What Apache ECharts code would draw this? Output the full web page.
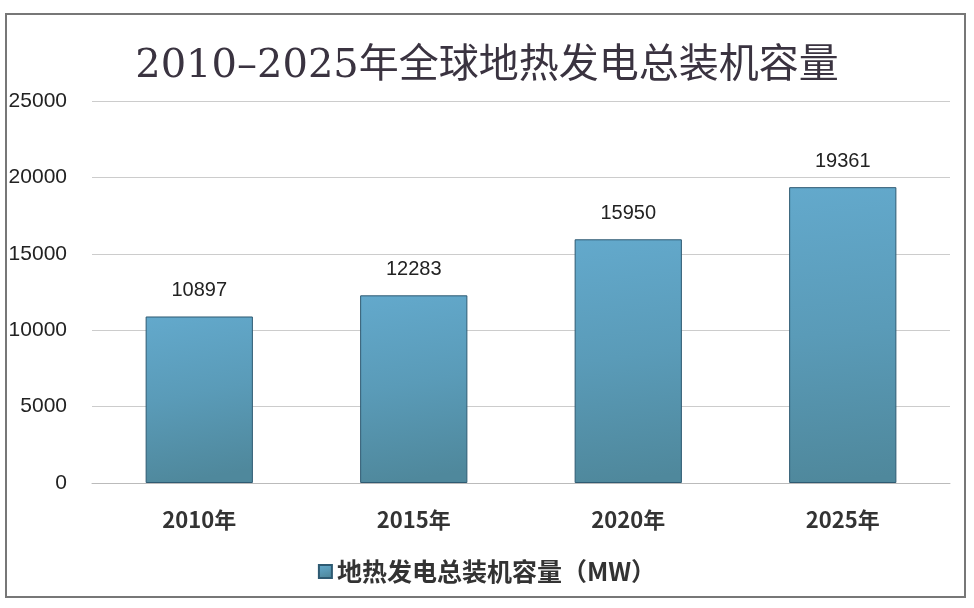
<!DOCTYPE html>
<html>
<head>
<meta charset="utf-8">
<script src="https://cdn.jsdelivr.net/npm/echarts@6/dist/echarts.min.js"></script>
<style>
html,body{margin:0;padding:0;background:#fff;}
#frame{position:absolute;left:5px;top:13px;width:961px;height:585px;border:2px solid #777;box-sizing:border-box;}
#chart{position:absolute;left:0;top:0;width:974px;height:608px;}
</style>
</head>
<body>
<div id="frame"></div>
<div id="chart"></div>
<script>
var titleText = '2010–2025年全球地热发电总装机容量';
var seriesName = '地热发电总装机容量（MW）';
var years = ['2010年', '2015年', '2020年', '2025年'];
var capacity = [10897, 12283, 15950, 19361];

var chart = echarts.init(document.getElementById('chart'));
var option = {
    backgroundColor: 'transparent',
    animation: false,
    title: {
        text: titleText,
        left: 'center',
        top: 42,
        textStyle: {
            fontFamily: '"DejaVu Serif", "Noto Sans CJK SC", serif',
            fontSize: 40,
            fontWeight: 'normal',
            color: '#3a3340'
        }
    },
    legend: {
        bottom: 19,
        left: 'center',
        itemWidth: 13,
        itemHeight: 13,
        icon: 'rect',
        textStyle: {
            fontFamily: '"Noto Sans CJK SC", sans-serif',
            fontSize: 25,
            fontWeight: 'bold',
            color: '#333'
        },
        data: [seriesName]
    },
    grid: {
        left: 92,
        right: 24,
        top: 101,
        bottom: 125
    },
    xAxis: {
        type: 'category',
        data: years,
        axisTick: {show: false},
        axisLine: {lineStyle: {color: '#bbb', width: 1}},
        axisLabel: {
            margin: 26,
            fontFamily: '"Noto Sans CJK SC", sans-serif',
            fontSize: 22,
            fontWeight: 'bold',
            color: '#333'
        }
    },
    yAxis: {
        type: 'value',
        min: 0,
        max: 25000,
        interval: 5000,
        axisLine: {show: false},
        axisTick: {show: false},
        splitLine: {lineStyle: {color: '#ccc', width: 1}},
        axisLabel: {
            margin: 25,
            formatter: function (v) { return String(v); },
            fontFamily: '"Liberation Sans", sans-serif',
            fontSize: 21,
            color: '#222'
        }
    },
    series: [{
        name: seriesName,
        type: 'bar',
        data: capacity,
        barWidth: '50%',
        itemStyle: {
            borderColor: '#2e5a72',
            borderWidth: 1,
            color: new echarts.graphic.LinearGradient(0, 0, 0.3, 1, [
                {offset: 0, color: '#63a9cc'},
                {offset: 0.5, color: '#5a9bb8'},
                {offset: 1, color: '#4f889c'}
            ])
        },
        label: {
            show: true,
            position: 'top',
            distance: 16,
            fontFamily: '"Liberation Sans", sans-serif',
            fontSize: 20,
            color: '#222'
        }
    }]
};
chart.setOption(option);
</script>
</body>
</html>
